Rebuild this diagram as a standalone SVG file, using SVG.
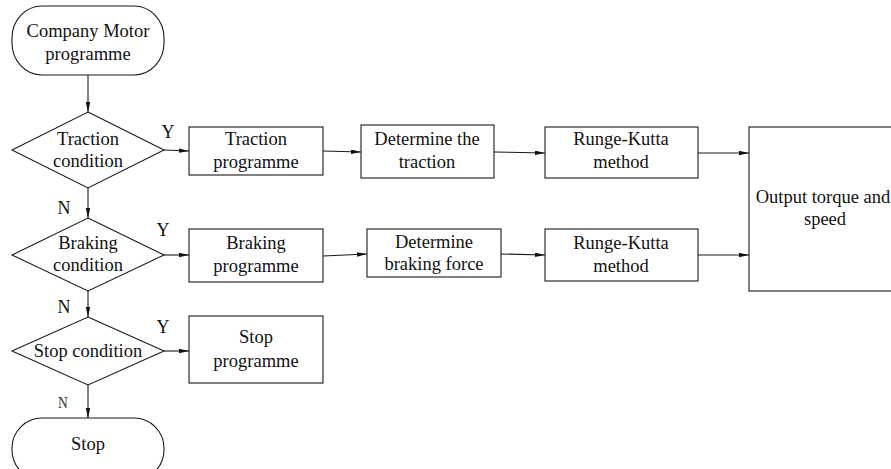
<svg xmlns="http://www.w3.org/2000/svg" width="891" height="469" viewBox="0 0 891 469">
  <style>
    .shape { fill: #fff; stroke: #1a1a1a; stroke-width: 1.1; }
    .wire { fill: none; stroke: #1a1a1a; stroke-width: 1.1; marker-end: url(#arrow); }
    text { font-family: "Liberation Serif", "Times New Roman", serif; font-size: 18.5px; fill: #111; text-anchor: middle; }
    .lbl { font-size: 18px; }
    .thin { font-size: 17px; fill: #333; }
  </style>
  <defs>
    <marker id="arrow" markerUnits="userSpaceOnUse" markerWidth="11" markerHeight="5" refX="10" refY="2.2" orient="auto">
      <path d="M0,0 L10,2.2 L0,4.4 z" fill="#111"/>
    </marker>
  </defs>

  <rect width="891" height="469" fill="#fff"/>

  <!-- connectors -->
  <g id="connectors">
    <path class="wire" d="M88,75 L88,112"/>
    <path class="wire" d="M164,150 L189,151"/>
    <path class="wire" d="M88,188 L88,218"/>
    <path class="wire" d="M164,255 L189,255"/>
    <path class="wire" d="M88,291 L88,317"/>
    <path class="wire" d="M164,351 L189,351"/>
    <path class="wire" d="M88,385 L88,418"/>
    <path class="wire" d="M323,151 L361,152"/>
    <path class="wire" d="M494,152 L545,153"/>
    <path class="wire" d="M323,256 L367,254"/>
    <path class="wire" d="M501,254 L545,255"/>
    <path class="wire" d="M698,153 L749,153"/>
    <path class="wire" d="M698,255 L749,255"/>
  </g>

  <!-- branch labels -->
  <g id="labels">
    <text class="lbl" x="168" y="138">Y</text>
    <text class="lbl" x="64" y="214">N</text>
    <text class="lbl" x="163" y="236">Y</text>
    <text class="lbl" x="64" y="313">N</text>
    <text class="lbl" x="163" y="333">Y</text>
    <text class="thin" x="63" y="408" transform="translate(63,0) scale(0.8,1) translate(-63,0)">N</text>
  </g>

  <g id="start">
    <rect class="shape" x="12" y="6" width="152" height="69" rx="30" ry="32"/>
    <text x="88" y="37">Company Motor</text>
    <text x="88" y="60">programme</text>
  </g>

  <g id="traction-condition">
    <path class="shape" d="M88,112 L164,150 L88,188 L12,150 Z"/>
    <text x="88" y="145">Traction</text>
    <text x="88" y="167">condition</text>
  </g>

  <g id="braking-condition">
    <path class="shape" d="M88,218 L164,255 L88,291 L12,255 Z"/>
    <text x="88" y="249">Braking</text>
    <text x="88" y="271">condition</text>
  </g>

  <g id="stop-condition">
    <path class="shape" d="M88,317 L164,351 L88,385 L12,351 Z"/>
    <text x="88" y="357">Stop condition</text>
  </g>

  <g id="stop">
    <rect class="shape" x="12" y="418" width="152" height="62" rx="30" ry="30"/>
    <text x="88" y="450">Stop</text>
  </g>

  <g id="traction-programme">
    <rect class="shape" x="189" y="127" width="134" height="48"/>
    <text x="256" y="145">Traction</text>
    <text x="256" y="168">programme</text>
  </g>

  <g id="braking-programme">
    <rect class="shape" x="189" y="229" width="134" height="53"/>
    <text x="256" y="249">Braking</text>
    <text x="256" y="272">programme</text>
  </g>

  <g id="stop-programme">
    <rect class="shape" x="189" y="316" width="134" height="67"/>
    <text x="256" y="343">Stop</text>
    <text x="256" y="367">programme</text>
  </g>

  <g id="determine-traction">
    <rect class="shape" x="361" y="125" width="133" height="53"/>
    <text x="427" y="145">Determine the</text>
    <text x="427" y="168">traction</text>
  </g>

  <g id="determine-braking">
    <rect class="shape" x="367" y="229" width="134" height="48"/>
    <text x="434" y="248">Determine</text>
    <text x="434" y="270">braking force</text>
  </g>

  <g id="runge-kutta-1">
    <rect class="shape" x="545" y="127" width="153" height="51"/>
    <text x="621" y="145">Runge-Kutta</text>
    <text x="621" y="168">method</text>
  </g>

  <g id="runge-kutta-2">
    <rect class="shape" x="545" y="229" width="153" height="52"/>
    <text x="621" y="249">Runge-Kutta</text>
    <text x="621" y="272">method</text>
  </g>

  <g id="output">
    <rect class="shape" x="749" y="127" width="152" height="164"/>
    <text x="823" y="203">Output torque and</text>
    <text x="825" y="225">speed</text>
  </g>
</svg>
